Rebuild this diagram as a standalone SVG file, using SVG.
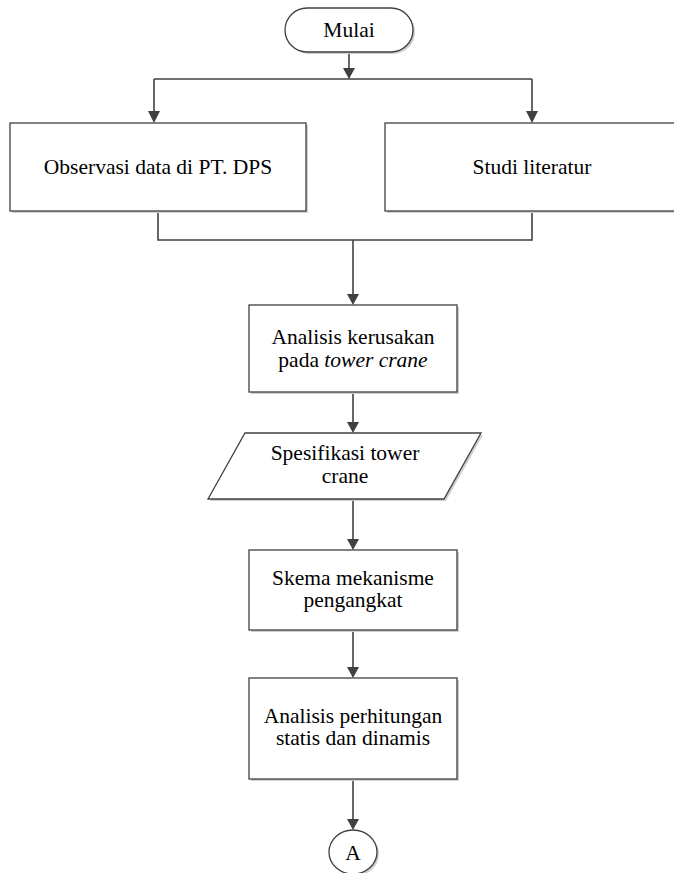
<svg xmlns="http://www.w3.org/2000/svg" width="674" height="873" viewBox="0 0 674 873">
<defs>
<style>
.box{fill:#fff;stroke:#404040;stroke-width:1.3}
.sh{fill:#cfcfcf;stroke:none}
.ln{fill:none;stroke:#404040;stroke-width:1.6}
.t{font-family:"Liberation Serif","Times New Roman",serif;font-size:21.5px;fill:#000;text-anchor:middle}
</style>
</defs>
<rect width="674" height="873" fill="#fff"/>
<g id="connectors">
<path class="ln" d="M349,52 V78"/>
<path d="M343,68 L355,68 L349,79 z" fill="#404040"/>
<path class="ln" d="M154,79 H532"/>
<path class="ln" d="M154,79 V112"/>
<path d="M148,111 L160,111 L154,123 z" fill="#404040"/>
<path class="ln" d="M532,79 V112"/>
<path d="M526,111 L538,111 L532,123 z" fill="#404040"/>
<path class="ln" d="M158,211 V240 H532 V211"/>
<path class="ln" d="M353,240 V295"/>
<path d="M347,294 L359,294 L353,305 z" fill="#404040"/>
<path class="ln" d="M353,393 V423"/>
<path d="M347,422 L359,422 L353,433 z" fill="#404040"/>
<path class="ln" d="M353,499 V540"/>
<path d="M347,539 L359,539 L353,550 z" fill="#404040"/>
<path class="ln" d="M353,630 V668"/>
<path d="M347,667 L359,667 L353,678 z" fill="#404040"/>
<path class="ln" d="M353,779 V820"/>
<path d="M347,819 L359,819 L353,830 z" fill="#404040"/>
</g>
<g id="mulai">
<rect x="287" y="10" width="128" height="44" rx="22" class="sh"/>
<rect x="285" y="8" width="128" height="44" rx="22" class="box"/>
<text x="349" y="37" class="t">Mulai</text>
</g>
<g id="observasi">
<rect x="12" y="125" width="296" height="88" class="sh"/>
<rect x="10" y="123" width="296" height="88" class="box"/>
<text x="158" y="174" class="t">Observasi data di PT. DPS</text>
</g>
<g id="studi">
<rect x="387" y="125" width="292" height="88" class="sh"/>
<rect x="385" y="123" width="292" height="88" class="box"/>
<text x="532" y="174" class="t">Studi literatur</text>
</g>
<g id="analisis-kerusakan">
<rect x="251" y="307" width="208" height="87" class="sh"/>
<rect x="249" y="305" width="208" height="87" class="box"/>
<text x="353" y="344" class="t">Analisis kerusakan</text>
<text x="353" y="367" class="t">pada <tspan font-style="italic">tower crane</tspan></text>
</g>
<g id="spesifikasi">
<path d="M247,435 L483,435 L446,501 L210,501 z" class="sh"/>
<path d="M245,433 L481,433 L444,499 L208,499 z" class="box"/>
<text x="345" y="460" class="t">Spesifikasi tower</text>
<text x="345" y="483" class="t">crane</text>
</g>
<g id="skema">
<rect x="251" y="552" width="208" height="80" class="sh"/>
<rect x="249" y="550" width="208" height="80" class="box"/>
<text x="353" y="585" class="t">Skema mekanisme</text>
<text x="353" y="607" class="t">pengangkat</text>
</g>
<g id="analisis-perhitungan">
<rect x="251" y="680" width="208" height="101" class="sh"/>
<rect x="249" y="678" width="208" height="101" class="box"/>
<text x="353" y="723" class="t">Analisis perhitungan</text>
<text x="353" y="745" class="t">statis dan dinamis</text>
</g>
<g id="konektor-a">
<ellipse cx="355" cy="854" rx="24" ry="22" class="sh"/>
<ellipse cx="353" cy="852" rx="24" ry="22" class="box"/>
<text x="353" y="860" class="t">A</text>
</g>
</svg>
